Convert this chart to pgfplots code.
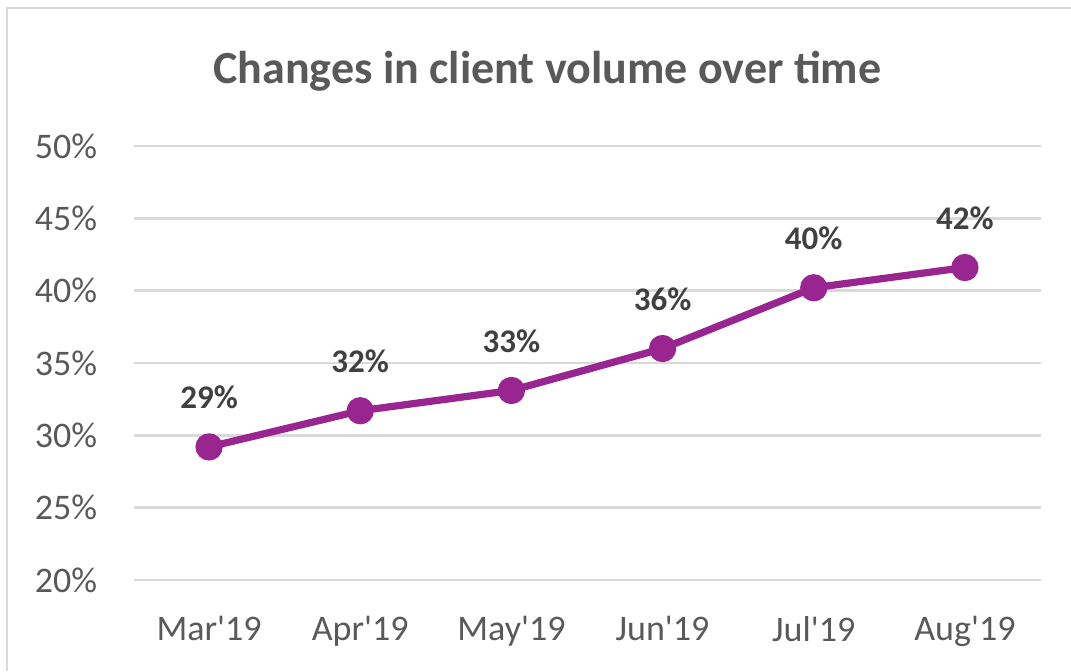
\documentclass[border=0pt]{standalone}
\usepackage{fontspec}
\setmainfont{Carlito}[Ligatures=TeXOff]
\usepackage{pgfplots}
\pgfplotsset{compat=1.18}
\definecolor{gridc}{HTML}{D9D9D9}
\definecolor{txt}{HTML}{595959}
\definecolor{lbl}{HTML}{404040}
\definecolor{purp}{HTML}{982590}
\definecolor{frame}{HTML}{D9D9D9}
\begin{document}
\begin{tikzpicture}[x=1pt,y=1pt]
\path[use as bounding box] (0,0) rectangle (535.5,335.5);
\draw[frame, line width=1pt] (3.5,0) -- (3.5,331.5) -- (535.5,331.5);
\node[txt, font=\fontsize{23}{27}\selectfont\bfseries] at (273.75,300) {Changes in client volume over time};
\begin{axis}[
  at={(66.75pt,45.5pt)}, anchor=south west,
  scale only axis, width=453.5pt, height=217pt,
  xmin=-0.5, xmax=5.5, ymin=20, ymax=50,
  xtick={0,1,2,3,4,5},
  xticklabels={Mar'19,Apr'19,May'19,Jun'19,Jul'19,Aug'19},
  ytick={20,25,30,35,40,45,50},
  yticklabels={20\%,25\%,30\%,35\%,40\%,45\%,50\%},
  axis line style={draw=none},
  major tick length=0pt,
  ymajorgrids, grid style={gridc, line width=1.4pt},
  tick label style={txt, font=\fontsize{18}{21}\selectfont},
  yticklabel style={anchor=east, inner sep=0pt, xshift=-18pt},
  xticklabel style={anchor=north, inner sep=0pt, yshift=-18pt},
  nodes near coords, point meta=explicit symbolic,
  every node near coord/.append style={lbl, font=\fontsize{16.5}{20}\selectfont\bfseries, anchor=base, yshift=19pt},
  clip=false,
]
\addplot[purp, line width=3.6pt, mark=*, mark size=5pt, mark options={fill=purp, draw=purp}]
coordinates {(0,29.2)[29\%] (1,31.7)[32\%] (2,33.1)[33\%] (3,36.0)[36\%] (4,40.2)[40\%] (5,41.6)[42\%]};
\end{axis}
\end{tikzpicture}
\end{document}
